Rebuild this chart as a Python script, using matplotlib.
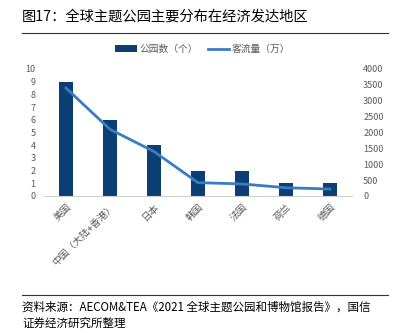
import matplotlib
matplotlib.use('Agg')
import matplotlib.pyplot as plt
import numpy as np

plt.rcParams['font.family'] = ['Noto Sans CJK SC', 'DejaVu Sans']

countries = ['美国', '中国（大陆+香港）', '日本', '韩国', '法国', '荷兰', '德国']
parks = [9, 6, 4, 2, 2, 1, 1]
visitors = [3400, 2100, 1400, 420, 380, 260, 220]

bar_color = '#0b3f73'
line_color = '#3a7cc2'
tick_color = '#595959'

fig = plt.figure(figsize=(3.94, 3.33), dpi=100)
ax = fig.add_axes([44/394, 1 - 196/333, 308/394, 127/333])
ax2 = ax.twinx()

x = np.arange(len(countries))
b = ax.bar(x, parks, width=0.32, color=bar_color, label='公园数（个）', zorder=2)
l, = ax2.plot(x, visitors, color=line_color, lw=2, label='客流量（万）', zorder=3)
ax.set_zorder(ax2.get_zorder() - 1)
ax2.patch.set_visible(False)

ax.set_xlim(-0.5, len(countries) - 0.5)
ax.set_ylim(0, 10)
ax2.set_ylim(0, 4000)
ax.set_yticks(range(0, 11))
ax2.set_yticks(range(0, 4001, 500))

for a in (ax, ax2):
    for s in a.spines.values():
        s.set_visible(False)
    a.tick_params(length=0, labelsize=6.5, colors=tick_color)
ax.spines['bottom'].set_visible(True)
ax.spines['bottom'].set_color('#d0d0d0')
ax.tick_params(axis='y', pad=6)
ax2.tick_params(axis='y', pad=8)

ax.set_xticks(x)
ax.set_xticklabels(countries, rotation=45, ha='right', rotation_mode='anchor', fontsize=7)
ax.tick_params(axis='x', pad=4)

fig.legend([b, l], ['公园数（个）', '客流量（万）'], loc='center', bbox_to_anchor=(0.515, 1 - 49/333),
           ncol=2, frameon=False, fontsize=7, handlelength=2.2, handletextpad=0.3,
           columnspacing=1.0, labelcolor=tick_color)

fig.text(22/394, 1 - 17/333, '图17：全球主题公园主要分布在经济发达地区', fontsize=10.3, va='center', ha='left')
fig.add_artist(plt.Line2D([22/394, 388/394], [1 - 33/333, 1 - 33/333], color='#333333', lw=0.8))
fig.add_artist(plt.Line2D([22/394, 388/394], [1 - 295/333, 1 - 295/333], color='#333333', lw=0.8))
fig.text(22/394, 1 - 307/333, '资料来源：AECOM&TEA《2021 全球主题公园和博物馆报告》，国信', fontsize=8.3, va='center', ha='left')
fig.text(22/394, 1 - 323/333, '证券经济研究所整理', fontsize=8.3, va='center', ha='left')

fig.savefig('out.png', dpi=100)
